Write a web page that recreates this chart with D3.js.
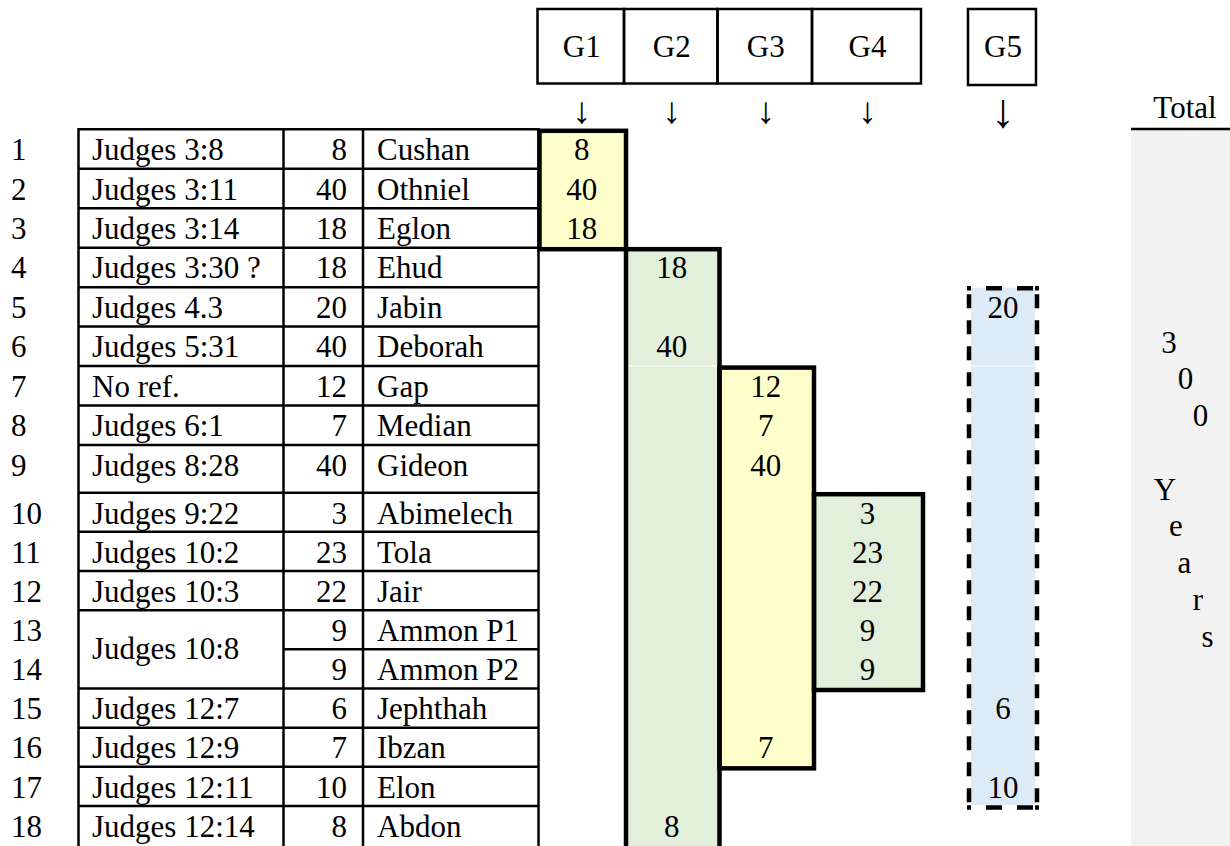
<!DOCTYPE html>
<html>
<head>
<meta charset="utf-8">
<script src="https://cdn.jsdelivr.net/npm/d3@7/dist/d3.min.js"></script>
<style>
  html, body { margin: 0; padding: 0; background: #fff; }
  svg { display: block; }
  text { font-family: "Liberation Serif", "Times New Roman", serif; fill: #000; }
</style>
</head>
<body>
<svg id="chart" width="1230" height="846"></svg>
<script>
// ---------------- DATA ----------------
const rowLabels = ["1","2","3","4","5","6","7","8","9","10","11","12","13","14","15","16","17","18"];
const refs = ["Judges 3:8","Judges 3:11","Judges 3:14","Judges 3:30 ?","Judges 4.3","Judges 5:31","No ref.",
  "Judges 6:1","Judges 8:28","Judges 9:22","Judges 10:2","Judges 10:3","Judges 10:8","Judges 10:8",
  "Judges 12:7","Judges 12:9","Judges 12:11","Judges 12:14"];
const years = [8,40,18,18,20,40,12,7,40,3,23,22,9,9,6,7,10,8];
const names = ["Cushan","Othniel","Eglon","Ehud","Jabin","Deborah","Gap","Median","Gideon","Abimelech",
  "Tola","Jair","Ammon P1","Ammon P2","Jephthah","Ibzan","Elon","Abdon"];

const groupNames = ["G1","G2","G3","G4","G5"];
const groupFirstRow = [1,4,7,10,5];
const groupLastRow  = [3,18,16,14,17];
const groupValueRows = [[1,2,3],[4,6,18],[7,8,9,16],[10,11,12,13,14],[5,15,17]];
const groupValues    = [[8,40,18],[18,40,8],[12,7,40,7],[3,23,22,9,9],[20,6,10]];

const totalTitle = "Total";
const totalChars = ["3","0","0"," ","Y","e","a","r","s"];

// ---------------- LAYOUT ----------------
const FS = 31, BASE = 30.8;
const svg = d3.select("#chart");

// row index (0..18) -> y
const y = d3.scaleLinear().domain([0, 8, 9, 17, 18]).range([129.3, 445, 492.7, 806, 850]);
const rowTop = i => y(i);

const colX = { left: 78.5, c1: 283.5, c2: 363, right: 538.5 };
const groupX = d3.scaleOrdinal().domain(groupNames)
  .range([[538.5, 625], [625, 718.5], [718.5, 813], [813, 922], [969, 1037]]);
const groupFill = d3.scaleOrdinal().domain(groupNames)
  .range(["#FFFFCC", "#E2EFDA", "#FFFFCC", "#E2EFDA", "#DDEBF7"]);

function txt(parent, x, yy, s, anchor, size) {
  return parent.append("text")
    .attr("x", x).attr("y", yy)
    .attr("text-anchor", anchor || "start")
    .attr("font-size", size || FS)
    .text(s);
}

// ---------------- TOTAL PANEL ----------------
svg.append("rect").attr("x", 1131).attr("y", 129).attr("width", 99).attr("height", 717).attr("fill", "#F2F2F2");
svg.append("line").attr("x1", 1131).attr("x2", 1230).attr("y1", 129).attr("y2", 129)
  .attr("stroke", "#000").attr("stroke-width", 2.5);
txt(svg, 1185, 118, totalTitle, "middle");
const charDx = [1169, 1185.5, 1200.5, 0, 1165, 1176, 1184.5, 1198, 1207.5];
totalChars.forEach((c, i) => {
  if (c.trim() === "") return;
  txt(svg, charDx[i], 352.7 + i * 36.75, c, "middle");
});

// ---------------- GROUP FILLS ----------------
const gIdx = d3.range(groupNames.length);
gIdx.forEach(g => {
  const [x0, x1] = groupX(groupNames[g]);
  const y0 = rowTop(groupFirstRow[g] - 1), y1 = rowTop(groupLastRow[g]);
  if (g === 4) {
    svg.append("rect").attr("x", x0 + 2).attr("y", y0 + 0.5).attr("width", x1 - x0 - 4).attr("height", y1 - y0 - 1.5)
      .attr("fill", groupFill(groupNames[g]));
  } else {
    svg.append("rect").attr("x", x0).attr("y", y0).attr("width", x1 - x0).attr("height", y1 - y0)
      .attr("fill", groupFill(groupNames[g]));
  }
});
// faint white cell gridline inside G2 / G5
[1, 4].forEach(g => {
  const [x0, x1] = groupX(groupNames[g]);
  svg.append("line").attr("x1", x0).attr("x2", x1).attr("y1", rowTop(6)).attr("y2", rowTop(6))
    .attr("stroke", "#fff").attr("stroke-width", 1);
});

// ---------------- TABLE ----------------
const table = svg.append("g");
rowLabels.forEach((lab, i) => {
  const xStart = (i === 13) ? colX.c1 : colX.left;
  table.append("line").attr("x1", xStart).attr("x2", colX.right).attr("y1", rowTop(i)).attr("y2", rowTop(i))
    .attr("stroke", "#000").attr("stroke-width", 2.5);
});
[colX.left, colX.c1, colX.c2, colX.right].forEach(x => {
  table.append("line").attr("x1", x).attr("x2", x).attr("y1", rowTop(0) - 1.2).attr("y2", 846)
    .attr("stroke", "#000").attr("stroke-width", 2.5);
});
rowLabels.forEach((lab, i) => {
  const by = rowTop(i) + BASE;
  txt(svg, 11, by, lab, "start");
  if (i === 12) {
    txt(svg, 92, (rowTop(12) + rowTop(14)) / 2 + 9.5, refs[i], "start");
  } else if (i !== 13) {
    txt(svg, 92, by, refs[i], "start");
  }
  txt(svg, 347, by, String(years[i]), "end");
  txt(svg, 377, by, names[i], "start");
});

// ---------------- GROUP BORDERS & VALUES ----------------
gIdx.forEach(g => {
  const name = groupNames[g];
  const [x0, x1] = groupX(name);
  const y0 = rowTop(groupFirstRow[g] - 1), y1 = rowTop(groupLastRow[g]);
  if (g < 4) {
    svg.append("rect").attr("x", x0 + 1).attr("y", y0 + 1.5).attr("width", x1 - x0).attr("height", y1 - y0)
      .attr("fill", "none").attr("stroke", "#000").attr("stroke-width", 4.5);
  } else {
    const yt = y0 + 1, yb = y1 + 1.5;
    [x0, x1].forEach(x => {
      svg.append("line").attr("x1", x).attr("x2", x).attr("y1", yt).attr("y2", yb)
        .attr("stroke", "#000").attr("stroke-width", 4.5).attr("stroke-dasharray", "14,12")
        .attr("stroke-dashoffset", -6);
    });
    [yt, yb].forEach(yy => {
      svg.append("line").attr("x1", x0 - 2).attr("x2", x1 + 2).attr("y1", yy).attr("y2", yy)
        .attr("stroke", "#000").attr("stroke-width", 4.5).attr("stroke-dasharray", "4,15,16,15,16,2,4");
    });
  }
  const cx = (x0 + x1) / 2;
  groupValueRows[g].forEach((r, k) => {
    txt(svg, cx, rowTop(r - 1) + BASE, String(groupValues[g][k]), "middle");
  });
});

// ---------------- HEADER ----------------
gIdx.forEach(g => {
  const name = groupNames[g];
  const [x0, x1] = groupX(name);
  const hb = (g === 4) ? 85 : 83.5;
  svg.append("rect").attr("x", x0 - 1).attr("y", 9).attr("width", x1 - x0).attr("height", hb - 9)
    .attr("fill", "none").attr("stroke", "#000").attr("stroke-width", 2.5);
  const cx = (x0 + x1) / 2;
  txt(svg, cx, 57, name, "middle");
  txt(svg, cx, g === 4 ? 127 : 123, "\u2193", "middle", g === 4 ? 48 : 37);
});
</script>
</body>
</html>
